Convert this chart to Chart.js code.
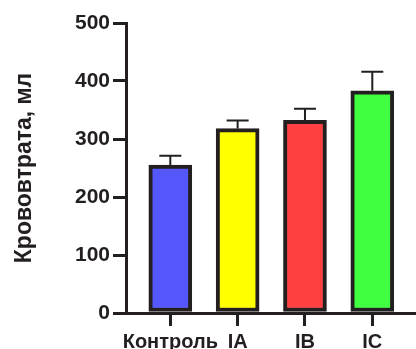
<!DOCTYPE html>
<html>
<head>
<meta charset="utf-8">
<script src="https://cdn.jsdelivr.net/npm/chart.js@4/dist/chart.umd.min.js"></script>
<style>
  html, body { margin: 0; padding: 0; background: #fff; }
  #wrap { width: 416px; height: 349px; }
</style>
</head>
<body>
<div id="wrap"><canvas id="bloodChart"></canvas></div>
<script>
const groups = ['Контроль', 'IA', 'IB', 'IC'];
const means = [255, 318, 332, 383];
const errors = [16, 14, 20, 33];
const barColors = ['#5557fa', '#ffff00', '#ff4042', '#40ff40'];
const yTicks = [0, 100, 200, 300, 400, 500];

const ink = '#231f20';
const font = (size) => ({ family: 'Liberation Sans', size: size, weight: 'bold' });

// draws the SEM whiskers (upper only) above each bar
const errorBars = {
    id: 'errorBars',
    afterDatasetsDraw(chart) {
        const ctx = chart.ctx;
        const y = chart.scales.y;
        const meta = chart.getDatasetMeta(0);
        ctx.save();
        ctx.strokeStyle = ink;
        ctx.lineWidth = 2;
        meta.data.forEach((bar, i) => {
            const top = y.getPixelForValue(means[i]);
            const cap = y.getPixelForValue(means[i] + errors[i]);
            ctx.beginPath();
            ctx.moveTo(bar.x, top);
            ctx.lineTo(bar.x, cap);
            ctx.moveTo(bar.x - 11, cap);
            ctx.lineTo(bar.x + 11, cap);
            ctx.stroke();
        });
        ctx.restore();
    }
};

new Chart(document.getElementById('bloodChart'), {
    type: 'bar',
    data: {
        datasets: [{
            data: means.map((v, i) => ({ x: i, y: v })),
            backgroundColor: barColors,
            borderColor: ink,
            borderWidth: 4,
            borderSkipped: false,
            barThickness: 43
        }]
    },
    options: {
        responsive: true,
        maintainAspectRatio: false,
        animation: false,
        layout: { padding: { top: 23, right: 0, bottom: 0, left: 0 } },
        plugins: { legend: { display: false }, tooltip: { enabled: false } },
        scales: {
            x: {
                type: 'linear',
                offset: false,
                min: -0.658,
                max: 3.649,
                afterBuildTicks: s => { s.ticks = groups.map((_, i) => ({ value: i })); },
                afterFit: s => { s.height = 36; s.paddingLeft = 0; s.paddingRight = 0; },
                border: { display: true, color: ink, width: 3 },
                grid: { offset: false, drawOnChartArea: false, drawTicks: true, tickLength: 13, lineWidth: 3, color: ink },
                ticks: {
                    color: ink,
                    font: font(20),
                    padding: 4,
                    maxRotation: 0,
                    autoSkip: false,
                    callback: v => groups[v]
                }
            },
            y: {
                min: 0,
                max: 500,
                afterBuildTicks: s => { s.ticks = yTicks.map(v => ({ value: v })); },
                afterFit: s => { s.width = 126; },
                border: { display: true, color: ink, width: 3 },
                grid: { drawOnChartArea: false, drawTicks: true, tickLength: 13, lineWidth: 3, color: ink },
                ticks: { color: ink, font: font(21), padding: 3 },
                title: {
                    display: true,
                    text: 'Крововтрата, мл',
                    color: ink,
                    font: font(23),
                    padding: { top: 11, bottom: 0 }
                }
            }
        }
    },
    plugins: [errorBars]
});
</script>
</body>
</html>
